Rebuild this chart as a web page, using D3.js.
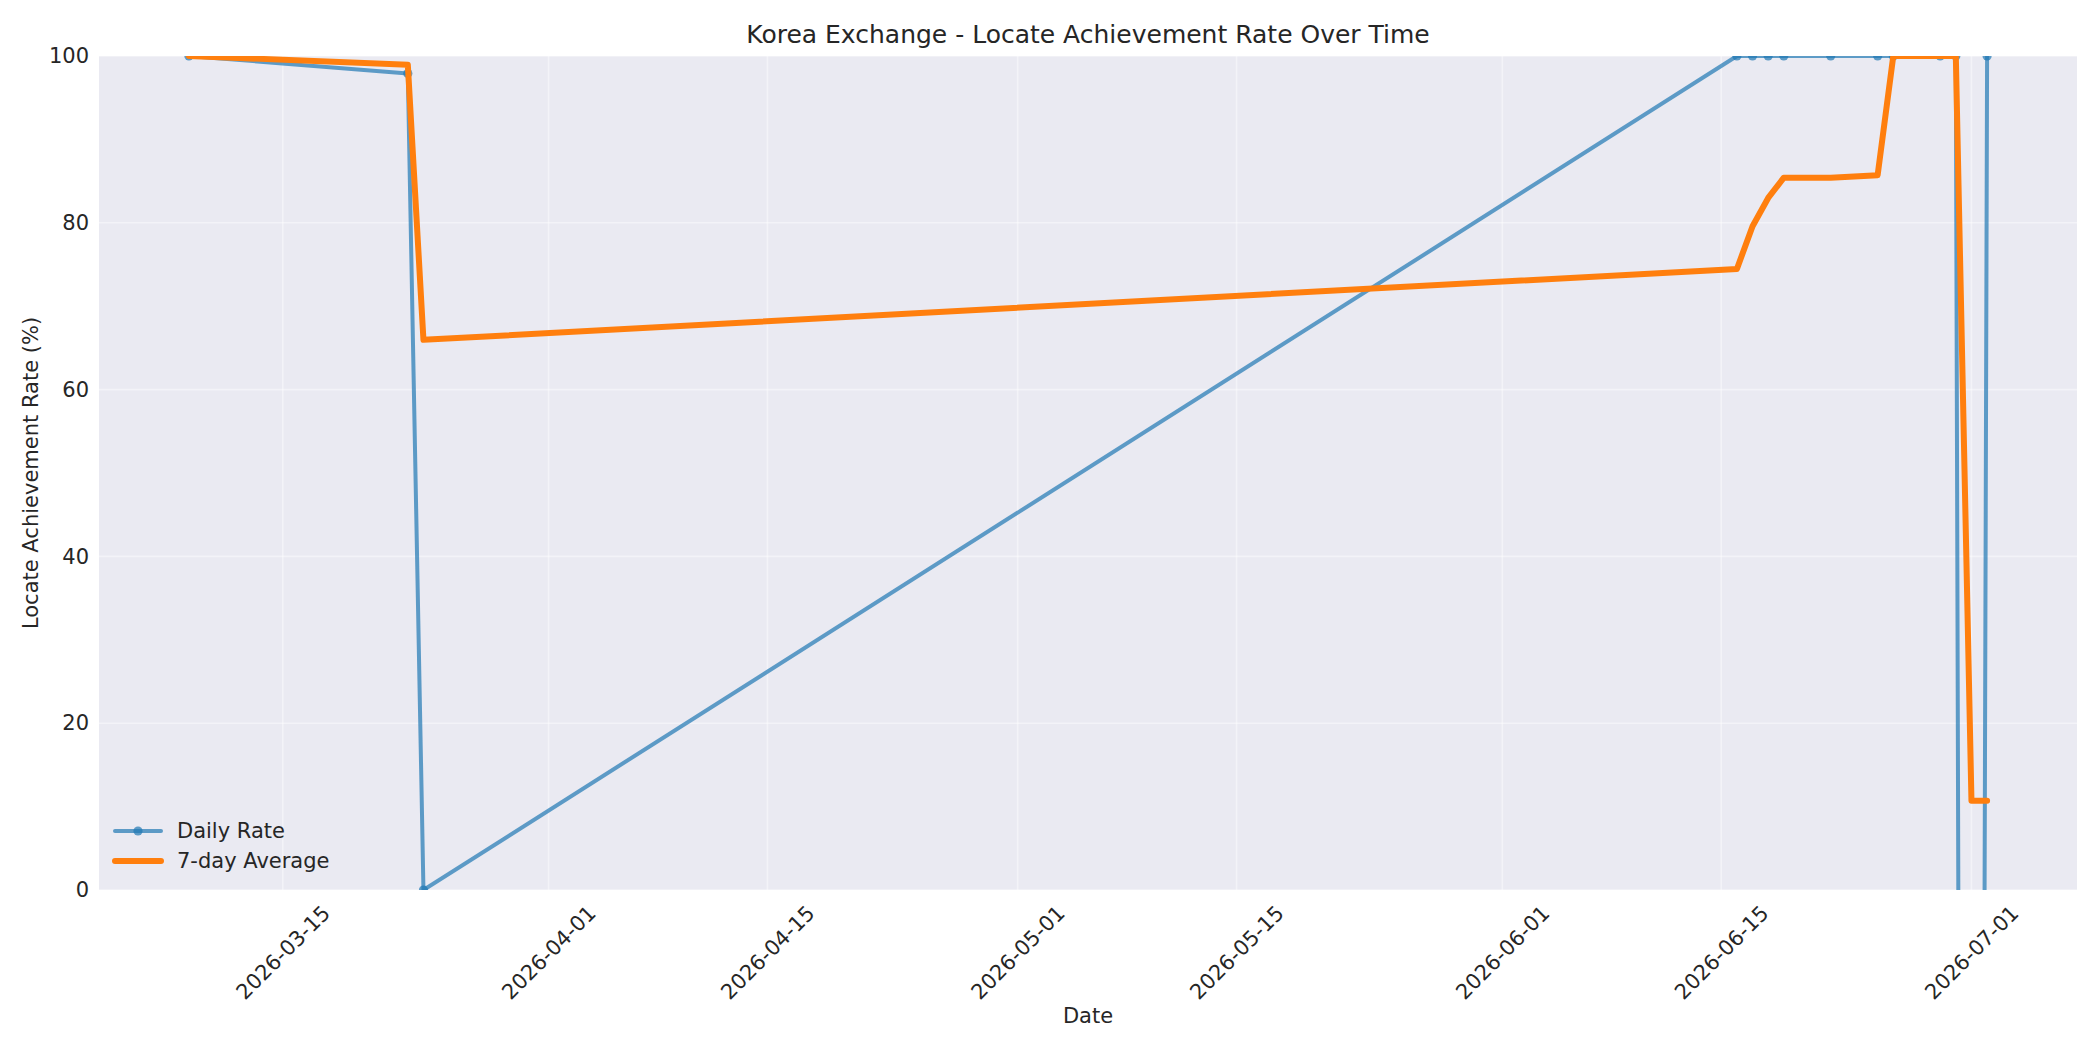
<!DOCTYPE html>
<html>
<head>
<meta charset="utf-8">
<title>Korea Exchange - Locate Achievement Rate Over Time</title>
<script src="https://cdn.jsdelivr.net/npm/d3@7"></script>
<style>
    body { margin: 0; background: #ffffff; }
    svg text { font-family: "DejaVu Sans", sans-serif; fill: #262626; }
</style>
</head>
<body>
<svg id="chart" width="2100" height="1050"></svg>
<script>
// Observation dates (one per trading day that had data)
const dates = ["2026-03-09", "2026-03-23", "2026-03-24", "2026-06-16", "2026-06-17",
    "2026-06-18", "2026-06-19", "2026-06-22", "2026-06-25", "2026-06-26",
    "2026-06-29", "2026-06-30", "2026-07-01", "2026-07-02"];

// Daily locate achievement rate (%); the 07-01 value sits far below the axis
const dailyRate = [100, 97.9, 0, 100, 100, 100, 100, 100, 100, 100, 100, 100, -525, 100];

// 7-day average (%)
const avgRate = [100, 98.95, 65.97, 74.47, 79.58, 82.98, 85.41, 85.41, 85.71, 100, 100, 100, 10.71, 10.71];

// Tick labels
const xTicks = ["2026-03-15", "2026-04-01", "2026-04-15", "2026-05-01", "2026-05-15",
    "2026-06-01", "2026-06-15", "2026-07-01"];
const yTicks = [0, 20, 40, 60, 80, 100];

const parseDate = d3.utcParse("%Y-%m-%d");
const daily = dates.map((d, i) => ({ date: parseDate(d), value: dailyRate[i] }));
const avg = dates.map((d, i) => ({ date: parseDate(d), value: avgRate[i] }));

const svg = d3.select("#chart");
const margin = { top: 56, right: 23, bottom: 160, left: 99 };
const width = 2100 - margin.left - margin.right;
const height = 1050 - margin.top - margin.bottom;

const g = svg.append("g")
    .attr("transform", `translate(${margin.left},${margin.top})`);

// x domain padded by 5% on both sides, like matplotlib's autoscale
const ext = d3.extent(daily, d => d.date);
const pad = (ext[1] - ext[0]) * 0.05;
const x = d3.scaleUtc()
    .domain([new Date(+ext[0] - pad), new Date(+ext[1] + pad)])
    .range([0, width]);

const y = d3.scaleLinear()
    .domain([0, 100])
    .range([height, 0]);

// Plot background
g.append("rect")
    .attr("width", width)
    .attr("height", height)
    .attr("fill", "#eaeaf2");

// Grid lines
const xTickDates = xTicks.map(parseDate);
g.append("g")
    .selectAll("line")
    .data(xTickDates)
    .enter()
    .append("line")
    .attr("x1", d => x(d))
    .attr("x2", d => x(d))
    .attr("y1", 0)
    .attr("y2", height)
    .attr("stroke", "#ffffff")
    .attr("stroke-opacity", 0.45)
    .attr("stroke-width", 1.6);

g.append("g")
    .selectAll("line")
    .data(yTicks)
    .enter()
    .append("line")
    .attr("x1", 0)
    .attr("x2", width)
    .attr("y1", d => y(d))
    .attr("y2", d => y(d))
    .attr("stroke", "#ffffff")
    .attr("stroke-opacity", 0.45)
    .attr("stroke-width", 1.6);

// Y axis (labels only, no domain or tick marks)
const yAxis = g.append("g")
    .call(d3.axisLeft(y).tickValues(yTicks).tickSize(0).tickPadding(10));
yAxis.select(".domain").remove();
yAxis.selectAll("text")
    .style("font-size", "21px")
    .style("font-family", "DejaVu Sans, sans-serif")
    .attr("fill", "#262626");

// X axis, labels rotated 45 degrees and centred on the tick
const xAxis = g.append("g")
    .attr("transform", `translate(0,${height})`)
    .call(d3.axisBottom(x).tickValues(xTickDates).tickFormat(d3.utcFormat("%Y-%m-%d")).tickSize(0));
xAxis.select(".domain").remove();
xAxis.selectAll("text")
    .style("font-size", "21px")
    .style("font-family", "DejaVu Sans, sans-serif")
    .attr("fill", "#262626")
    .attr("dy", null)
    .attr("y", 0)
    .attr("text-anchor", "middle")
    .attr("dominant-baseline", "central")
    .attr("transform", function() {
        const len = this.getComputedTextLength();
        const half = (len + 24) * Math.SQRT1_2 / 2;
        return `translate(0,${11 + half}) rotate(-45)`;
    });

// Clip the data to the plot area
svg.append("defs").append("clipPath")
    .attr("id", "plot-clip")
    .append("rect")
    .attr("width", width)
    .attr("height", height);

const plot = g.append("g").attr("clip-path", "url(#plot-clip)");

const line = d3.line()
    .x(d => x(d.date))
    .y(d => y(d.value));

// Daily rate line with markers
plot.append("path")
    .datum(daily)
    .attr("fill", "none")
    .attr("stroke", "#1f77b4")
    .attr("stroke-opacity", 0.7)
    .attr("stroke-width", 4)
    .attr("stroke-linejoin", "round")
    .attr("stroke-linecap", "round")
    .attr("d", line);

plot.selectAll(".dot")
    .data(daily)
    .enter()
    .append("circle")
    .attr("class", "dot")
    .attr("cx", d => x(d.date))
    .attr("cy", d => y(d.value))
    .attr("r", 4.6)
    .attr("fill", "#1f77b4")
    .attr("fill-opacity", 0.7);

// 7-day average line
plot.append("path")
    .datum(avg)
    .attr("fill", "none")
    .attr("stroke", "#ff7f0e")
    .attr("stroke-width", 6)
    .attr("stroke-linejoin", "round")
    .attr("stroke-linecap", "round")
    .attr("d", line);

// Title and axis labels
svg.append("text")
    .attr("x", margin.left + width / 2)
    .attr("y", 43)
    .attr("text-anchor", "middle")
    .style("font-size", "25px")
    .text("Korea Exchange - Locate Achievement Rate Over Time");

svg.append("text")
    .attr("x", margin.left + width / 2)
    .attr("y", 1023)
    .attr("text-anchor", "middle")
    .style("font-size", "21px")
    .text("Date");

svg.append("text")
    .attr("transform", `translate(38,${margin.top + height / 2}) rotate(-90)`)
    .attr("text-anchor", "middle")
    .style("font-size", "21px")
    .text("Locate Achievement Rate (%)");

// Legend
const legendItems = [
    { name: "Daily Rate", color: "#1f77b4", opacity: 0.7, width: 4, marker: true },
    { name: "7-day Average", color: "#ff7f0e", opacity: 1, width: 6, marker: false }
];

const legend = svg.append("g")
    .selectAll("g")
    .data(legendItems)
    .enter()
    .append("g")
    .attr("transform", (d, i) => `translate(115,${831 + i * 30})`);

legend.append("line")
    .attr("x1", 0)
    .attr("x2", 46)
    .attr("stroke", d => d.color)
    .attr("stroke-opacity", d => d.opacity)
    .attr("stroke-width", d => d.width)
    .attr("stroke-linecap", "round");

legend.filter(d => d.marker)
    .append("circle")
    .attr("cx", 23)
    .attr("r", 4.6)
    .attr("fill", d => d.color)
    .attr("fill-opacity", d => d.opacity);

legend.append("text")
    .attr("x", 62)
    .attr("dy", "0.35em")
    .style("font-size", "21px")
    .text(d => d.name);
</script>
</body>
</html>
